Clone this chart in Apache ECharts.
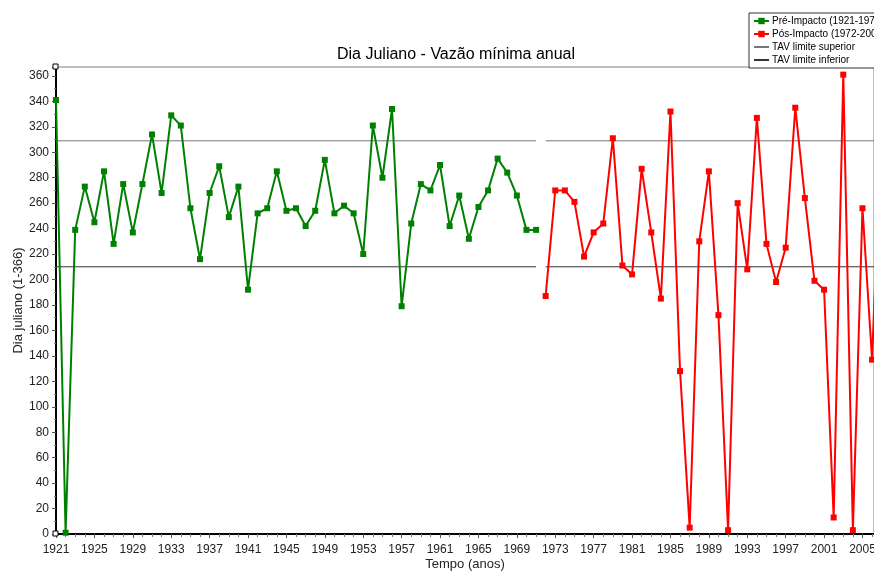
<!DOCTYPE html>
<html>
<head>
<meta charset="utf-8">
<script src="https://cdn.jsdelivr.net/npm/echarts@6/dist/echarts.min.js"></script>
<style>
  html, body { margin: 0; padding: 0; background: #fff; }
  #chart { width: 874px; height: 571px; }
</style>
</head>
<body>
<div id="chart"></div>
<script>
// anos e valores
var preYears = [];
for (var y = 1921; y <= 1971; y++) preYears.push(y);
var posYears = [];
for (var y2 = 1972; y2 <= 2007; y2++) posYears.push(y2);

var preImpacto = [
    341, 1, 239, 273, 245, 285, 228, 275, 237, 275,
    314, 268, 329, 321, 256, 216, 268, 289, 249, 273,
    192, 252, 256, 285, 254, 256, 242, 254, 294, 252,
    258, 252, 220, 321, 280, 334, 179, 244, 275, 270,
    290, 242, 266, 232, 257, 270, 295, 284, 266, 239,
    239
];
var posImpacto = [
    187, 270, 270, 261, 218, 237, 244, 311, 211, 204,
    287, 237, 185, 332, 128, 5, 230, 285, 172, 3,
    260, 208, 327, 228, 198, 225, 335, 264, 199, 192,
    13, 361, 3, 256, 137, 330
];
var tavSuperior = 309;
var tavInferior = 210;

function pairs(xs, vs) {
    var out = [];
    for (var i = 0; i < xs.length; i++) out.push([xs[i], vs[i]]);
    return out;
}

// linha TAV com interrupção entre os dois períodos
function tavLine(v) {
    return [[1921, v], [1971, v], [1971.5, '-'], [1972, v], [2007, v]];
}

var font = 'Liberation Sans, Arial, sans-serif';

var chart = echarts.init(document.getElementById('chart'));
chart.setOption({
    animation: false,
    backgroundColor: '#fff',
    title: {
        text: 'Dia Juliano - Vazão mínima anual',
        left: 332,
        top: 42,
        textStyle: { fontFamily: font, fontSize: 16, fontWeight: 'normal', color: '#000' }
    },
    legend: {
        orient: 'vertical',
        left: 749,
        top: 13,
        padding: [3, 4, 3, 4],
        itemGap: 3,
        itemWidth: 15,
        itemHeight: 8,
        borderColor: '#333',
        borderWidth: 1,
        backgroundColor: '#fff',
        textStyle: { fontFamily: font, fontSize: 10, color: '#000', padding: [0, 0, 0, -2] },
        data: [
            'Pré-Impacto (1921-1971)',
            'Pós-Impacto (1972-2007)',
            { name: 'TAV limite superior', itemStyle: { opacity: 0 } },
            { name: 'TAV limite inferior', itemStyle: { opacity: 0 } }
        ]
    },
    grid: {
        left: 56,
        right: 0,
        top: 67,
        bottom: 37,
        outerBoundsMode: 'none',
        containLabel: false,
        show: true,
        borderColor: '#808080',
        borderWidth: 1
    },
    xAxis: {
        type: 'value',
        min: 1921,
        max: 2006.2,
        interval: 4,
        name: 'Tempo (anos)',
        nameLocation: 'middle',
        nameGap: 24,
        nameMoveOverlap: false,
        nameTextStyle: { fontFamily: font, fontSize: 13, color: '#222' },
        axisLine: { lineStyle: { color: '#000', width: 2 } },
        axisTick: { length: 4, lineStyle: { color: '#555' } },
        minorTick: { show: true, splitNumber: 4, length: 3, lineStyle: { color: '#777' } },
        splitLine: { show: false },
        axisLabel: {
            fontFamily: font, fontSize: 12, color: '#222', margin: 10,
            showMaxLabel: false,
            formatter: function (v) { return String(Math.round(v)); }
        }
    },
    yAxis: {
        type: 'value',
        min: 0,
        max: 367,
        interval: 20,
        name: 'Dia juliano (1-366)',
        nameLocation: 'middle',
        nameGap: 31,
        nameMoveOverlap: false,
        nameTextStyle: { fontFamily: font, fontSize: 13, color: '#222' },
        axisLine: { show: true, lineStyle: { color: '#000', width: 2 } },
        axisTick: { show: true, length: 4, lineStyle: { color: '#555' } },
        minorTick: { show: true, splitNumber: 2, length: 2, lineStyle: { color: '#777' } },
        splitLine: { show: false },
        axisLabel: { fontFamily: font, fontSize: 12, color: '#222', margin: 7, showMaxLabel: false }
    },
    graphic: [
        { type: 'rect', shape: { x: 53, y: 64, width: 5, height: 5 }, style: { fill: '#fff', stroke: '#000', lineWidth: 1 }, z: 100 },
        { type: 'rect', shape: { x: 53, y: 531, width: 5, height: 5 }, style: { fill: '#fff', stroke: '#000', lineWidth: 1 }, z: 100 }
    ],
    series: [
        {
            name: 'TAV limite superior',
            type: 'line',
            data: tavLine(tavSuperior),
            showSymbol: false,
            symbol: 'none',
            connectNulls: false,
            lineStyle: { color: '#777', width: 1 },
            itemStyle: { color: '#000' },
            z: 1
        },
        {
            name: 'TAV limite inferior',
            type: 'line',
            data: tavLine(tavInferior),
            showSymbol: false,
            symbol: 'none',
            connectNulls: false,
            lineStyle: { color: '#333', width: 1 },
            itemStyle: { color: '#000' },
            z: 1
        },
        {
            name: 'Pré-Impacto (1921-1971)',
            type: 'line',
            data: pairs(preYears, preImpacto),
            symbol: 'rect',
            symbolSize: 6,
            clip: true,
            lineStyle: { color: '#008000', width: 2 },
            itemStyle: { color: '#008000' },
            z: 3
        },
        {
            name: 'Pós-Impacto (1972-2007)',
            type: 'line',
            data: pairs(posYears, posImpacto),
            symbol: 'rect',
            symbolSize: 6,
            clip: true,
            lineStyle: { color: '#ff0000', width: 2 },
            itemStyle: { color: '#ff0000' },
            z: 3
        }
    ]
});
</script>
</body>
</html>
